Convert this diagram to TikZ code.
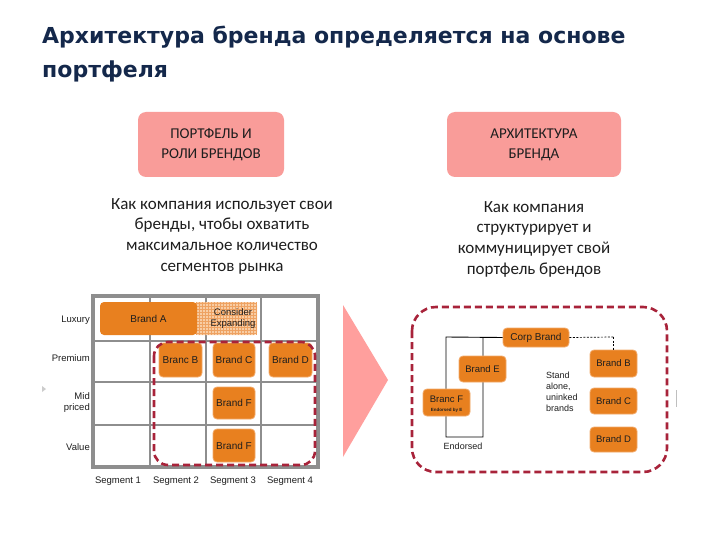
\documentclass[tikz,border=0pt]{standalone}
\usepackage{fontspec}
\setmainfont{Carlito}
\newfontfamily\arialf{Liberation Sans}
\newfontfamily\titlef{DejaVu Sans}
\definecolor{titlecol}{HTML}{14284B}
\definecolor{pinkbox}{HTML}{F99C99}
\definecolor{brandor}{HTML}{E8801F}
\definecolor{brandedge}{HTML}{F2AA6A}
\definecolor{considerfill}{HTML}{F8CDA4}
\definecolor{considerline}{HTML}{EEA262}
\definecolor{gridgray}{HTML}{8E8E8E}
\definecolor{dashred}{HTML}{A8233A}
\definecolor{tripink}{HTML}{FF9F9D}
\definecolor{txtdark}{HTML}{1E1E1E}
\begin{document}
\begin{tikzpicture}[x=1pt,y=-1pt,
  titlestyle/.style={font=\titlef\bfseries\fontsize{22}{26}\selectfont, text=titlecol, inner sep=0pt},
  headbox/.style={fill=pinkbox, rounded corners=8pt, align=center, text=txtdark,
    font=\fontsize{15}{20}\selectfont, inner sep=0pt},
  desc/.style={align=center, text=txtdark, font=\fontsize{17}{20.7}\selectfont, inner sep=0pt},
  brandbox/.style={fill=brandor, draw=brandedge, line width=0.8pt, rounded corners=4pt,
    inner sep=0pt, align=center, text=txtdark, font=\arialf\fontsize{10}{11}\selectfont},
  lbl/.style={font=\arialf\fontsize{9.5}{11}\selectfont, text=txtdark, inner sep=0pt},
  redash/.style={draw=dashred, line width=2.6pt, dash pattern=on 7pt off 4pt},
  gridline/.style={draw=gridgray, line width=1.8pt},
  conn/.style={draw=black, line width=0.9pt}
]
\useasboundingbox (0,0) rectangle (720,540);
\fill[white] (0,0) rectangle (720,540);

% title
\node[titlestyle, anchor=base west] (t1) at (42,44) {Архитектура бренда определяется на основе};
\node[titlestyle, anchor=base west] (t2) at (42,78) {портфеля};

% header boxes
\node[headbox, minimum width=146pt, minimum height=65pt] (hb1) at (211,144.5) {ПОРТФЕЛЬ И\\РОЛИ БРЕНДОВ};
\node[headbox, minimum width=174pt, minimum height=65pt] (hb2) at (534,144.5) {АРХИТЕКТУРА\\БРЕНДА};

% descriptions
\node[desc] (d1) at (222,236) {Как компания использует свои\\бренды, чтобы охватить\\максимальное количество\\сегментов рынка};
\node[desc] (d2) at (534,239) {Как компания\\структурирует и\\коммуницирует свой\\портфель брендов};

% ---------- left grid ----------
\draw[gridline] (150,296) -- (150,467);
\draw[gridline] (206,296) -- (206,467);
\draw[gridline] (261,296) -- (261,467);
\draw[gridline] (93,341) -- (318,341);
\draw[gridline] (93,382) -- (318,382);
\draw[gridline] (93,425) -- (318,425);
\draw[draw=gridgray, line width=3.5pt] (93,296) rectangle (318,467);

% consider expanding (hatched)
\node[fill=considerfill, rounded corners=3pt, minimum width=62pt, minimum height=33pt, inner sep=0pt] (ce) at (226,318.5) {};
\begin{scope}
  \clip (195,302) rectangle (257,335);
  \foreach \xx in {196,199,...,257} {\draw[considerline, line width=0.4pt] (\xx,302) -- (\xx,335);}
  \foreach \yy in {303,306,...,335} {\draw[considerline, line width=0.4pt] (195,\yy) -- (257,\yy);}
\end{scope}
\node[lbl, align=center, font=\arialf\fontsize{9.5}{11}\selectfont] (cet) at (233,318.5) {Consider\\Expanding};

\node[brandbox, draw=none, minimum width=97pt, minimum height=33pt] (bA) at (148.5,318.5) {Brand A};
\node[brandbox, minimum width=43pt, minimum height=34pt] (bB) at (180.5,360) {Branc B};
\node[brandbox, minimum width=42pt, minimum height=34pt] (bC) at (234,360) {Brand C};
\node[brandbox, minimum width=43pt, minimum height=34pt] (bD) at (290.5,360) {Brand D};
\node[brandbox, minimum width=42pt, minimum height=32pt] (bF1) at (234,403) {Brand F};
\node[brandbox, minimum width=42pt, minimum height=33pt] (bF2) at (234,445.5) {Brand F};

\draw[redash, rounded corners=14pt] (154,342) rectangle (315,465);

% row labels
\node[lbl, anchor=east] (rl1) at (90,320) {Luxury};
\node[lbl, anchor=east] (rl2) at (90,358) {Premium};
\node[lbl, anchor=east, align=right] (rl3) at (90,403) {Mid\\priced};
\node[lbl, anchor=east] (rl4) at (90,447) {Value};
% column labels
\node[lbl] (cl1) at (118,481) {Segment 1};
\node[lbl] (cl2) at (176,481) {Segment 2};
\node[lbl] (cl3) at (233,481) {Segment 3};
\node[lbl] (cl4) at (290,481) {Segment 4};

\fill[gray!40] (42,386) -- (46,389) -- (42,392) -- cycle;

% big arrow triangle
\fill[tripink] (343,305) -- (388,380) -- (343,457) -- cycle;

% ---------- right panel ----------
\draw[redash, rounded corners=24pt] (412,307) rectangle (667,472);
\draw[gray!50, line width=1pt] (676,390) -- (676,407);

\coordinate (tl) at (446,337);
\coordinate (tr) at (483,337);
\coordinate (bl) at (446,437);
\coordinate (br) at (483,437);
\coordinate (dk) at (613.5,337);
\node[brandbox, minimum width=66pt, minimum height=19pt] (corp) at (536,337.5) {Corp Brand};
\draw[conn] (corp.west) -- (tl) -- (bl) -- (br) -- (tr);
\draw[conn, dashed, dash pattern=on 2pt off 1.5pt, line width=0.7pt] (corp.east) -- (dk);

\node[brandbox, minimum width=47pt, minimum height=26pt, font=\arialf\fontsize{9.5}{11}\selectfont] (rE) at (482.5,369) {Brand E};
\node[brandbox, minimum width=47pt, minimum height=27pt] (rF) at (446.5,402.5) {};
\node[lbl, font=\arialf\fontsize{9.5}{11}\selectfont] (rFt) at (446.5,399) {Branc F};
\node[lbl, font=\arialf\bfseries\fontsize{4.5}{5}\selectfont] (rFs) at (446.5,410) {Endorsed by E};
\node[brandbox, minimum width=47pt, minimum height=27pt, font=\arialf\fontsize{9.5}{11}\selectfont] (rB) at (613.5,363.5) {Brand B};
\node[brandbox, minimum width=47pt, minimum height=26pt, font=\arialf\fontsize{9.5}{11}\selectfont] (rC) at (613.5,401) {Brand C};
\node[brandbox, minimum width=47pt, minimum height=25pt, font=\arialf\fontsize{9.5}{11}\selectfont] (rD) at (613.5,439.5) {Brand D};
\draw[conn, dashed, dash pattern=on 2pt off 1.5pt, line width=0.7pt] (dk) -- (rB.north);

\node[lbl, anchor=north west, align=left, font=\arialf\fontsize{9}{11}\selectfont] (sa) at (546,372) {Stand\\alone,\\uninked\\brands};
\node[lbl, font=\arialf\fontsize{9}{11}\selectfont] (endt) at (463,446) {Endorsed};
\end{tikzpicture}
\end{document}
